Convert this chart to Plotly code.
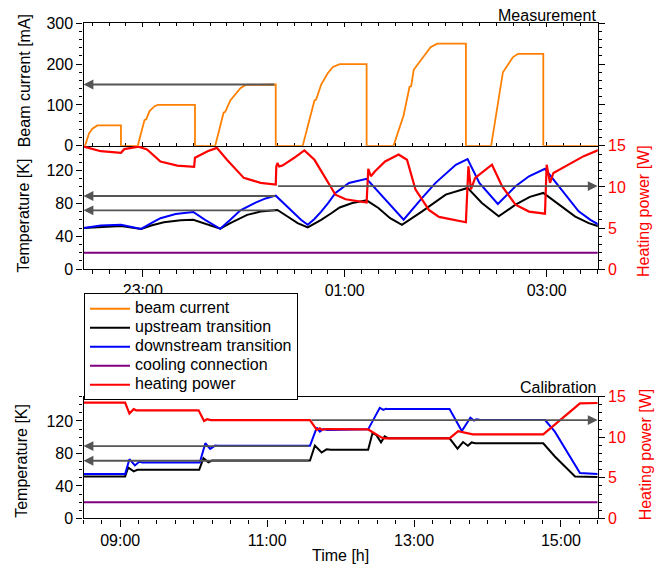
import plotly.graph_objects as go

# ---------------- data ----------------
# Measurement night (times HH:MM[:SS]; evening belongs to day 1, after midnight to day 2)
beam_time = ["22:25", "22:25:40", "22:28", "22:30", "22:33", "22:47", "22:47", "22:57", "23:01", "23:02",
             "23:04", "23:07", "23:09", "23:31", "23:31", "23:43", "23:48", "23:49", "23:52", "23:58",
             "00:01", "00:19", "00:19", "00:35", "00:42", "00:43", "00:46", "00:50", "00:53", "00:57",
             "01:13", "01:13", "01:29", "01:35", "01:38:30", "01:39:30", "01:41", "01:51", "01:55", "02:12",
             "02:12", "02:27", "02:34", "02:40", "02:43", "02:58", "02:58", "03:31"]
beam_current = [0, 0, 30, 42, 50, 50, 0, 0, 63, 65,
                85, 97, 100, 100, 0, 0, 81, 83, 111, 141,
                149, 150, 0, 0, 111, 113, 150, 178, 193, 200,
                200, 0, 0, 75, 144, 146, 186, 241, 250, 250,
                0, 0, 180, 217, 225, 225, 0, 0]

up_time = ["22:25", "22:35", "22:47", "22:59", "23:05", "23:12:30", "23:22:30", "23:30", "23:37", "23:46",
           "23:52", "00:02", "00:10", "00:20", "00:26", "00:32", "00:38", "00:46", "00:52", "00:54:30",
           "00:57", "01:04:30", "01:13", "01:20", "01:27", "01:34", "01:46", "02:00", "02:13", "02:21:30",
           "02:31:30", "02:41:30", "02:50", "02:58", "03:09", "03:17", "03:25", "03:31"]
up_temp = [50, 51.5, 52.5, 48.8, 53, 57, 59.5, 60, 55, 49.2,
           56, 66, 70, 72, 64, 56, 50.8, 60, 68, 72,
           75, 80.5, 83.7, 74.4, 62, 54, 70.3, 90.6, 98.8, 80.5,
           64.2, 78.4, 88, 92.7, 76, 64, 56, 52]

dn_time = ["22:25", "22:35", "22:47", "22:59", "23:05", "23:10:30", "23:19:30", "23:30", "23:37", "23:46",
           "23:52", "23:58", "00:07", "00:13", "00:19", "00:28", "00:34", "00:38", "00:42", "00:46",
           "00:50", "00:54:30", "01:02:30", "01:13", "01:24", "01:35", "01:46", "01:54", "02:06", "02:13",
           "02:20", "02:31", "02:41:30", "02:49:30", "02:59", "03:09", "03:19", "03:26", "03:31"]
dn_temp = [50, 53, 54, 49, 56, 62, 67, 69.5, 60, 49,
           60, 71.5, 81, 86, 89.4, 72, 60, 54, 61, 70,
           80, 92.7, 104.9, 109.8, 84.5, 60.1, 86.6, 105, 127, 134,
           105, 79.3, 100.8, 113, 122, 96.7, 70.3, 60, 54]

cool_time = ["22:25", "03:31"]
cool_temp = [20, 20]

hp_time = ["22:25", "22:35", "22:47", "22:49", "22:57:30", "23:02:30", "23:10:30", "23:20:30", "23:30:30", "23:31",
           "23:38:30", "23:44", "23:50", "00:00", "00:10", "00:19", "00:19:20", "00:20", "00:21", "00:23",
           "00:30", "00:36", "00:42", "00:50", "00:54:30", "01:00:30", "01:13", "01:14", "01:15:30", "01:18",
           "01:24", "01:32", "01:37", "01:42", "01:50", "01:56", "02:12", "02:13:30", "02:15", "02:17:30",
           "02:27:30", "02:33:30", "02:41:30", "02:49:30", "02:59", "03:00", "03:02", "03:04", "03:13", "03:22",
           "03:31"]
hp_power = [14.9, 14.35, 14.15, 14.6, 14.9, 14.55, 13.1, 12.6, 12.45, 13.55,
            14.35, 14.75, 13.3, 11.1, 10.5, 10.3, 12.5, 12.9, 12.5, 12.6,
            13.55, 14.45, 13.3, 10.5, 9.05, 8.5, 8.1, 12.2, 11.3, 11.9,
            13.1, 13.95, 13.3, 9.7, 7.2, 6.35, 5.7, 12.5, 9.7, 11.1,
            12.7, 10.1, 7.85, 7.0, 6.75, 12.7, 10.5, 11.7, 12.7, 13.75,
            14.5]

# Calibration day
cal_up_time = ["08:30", "09:04", "09:06:30", "09:11", "09:14", "10:04:30", "10:08", "10:12", "10:15", "11:35",
               "11:39", "11:44:30", "11:48:30", "11:52", "12:22:30", "12:26", "12:29", "12:33", "12:36", "12:39",
               "13:29", "13:35:30", "13:40", "13:44", "13:47", "13:50", "14:45:30", "14:55", "15:11:30", "15:30"]
cal_up_temp = [51.7, 51.7, 62.7, 57.9, 59.9, 59.9, 74.1, 69.2, 71.3, 71.3,
               89.7, 81.1, 85, 84.4, 84.4, 104.7, 103, 93.7, 101, 98.6,
               98.6, 86, 94, 89.5, 93.5, 92.5, 92.5, 76.2, 51.7, 51]

cal_dn_time = ["08:30", "09:04", "09:07:30", "09:12", "09:15:30", "09:18", "10:05", "10:09:30", "10:13:30", "10:17:30",
               "10:20", "11:35", "11:40:30", "11:43", "11:46", "11:49", "12:22:30", "12:32", "12:35", "12:37",
               "12:39", "13:29", "13:39", "13:46", "13:49", "13:51", "13:54", "14:47", "14:55", "15:15:30",
               "15:30"]
cal_dn_temp = [54.6, 54.6, 72.9, 65.2, 69.7, 68.9, 68.9, 92.5, 85.6, 89.6,
               89.3, 89.3, 111.7, 106.8, 110, 108.8, 109.6, 136.1, 133.5, 135,
               134.5, 134.5, 107.6, 123.9, 120.5, 122, 121, 121, 106.8, 55.8,
               54.6]

cal_cool_time = ["08:30", "15:30"]
cal_cool_temp = [20, 20]

cal_hp_time = ["08:30", "09:04", "09:07:30", "09:11", "09:13", "10:04", "10:08:30", "10:11", "10:14", "11:35",
               "11:40:30", "11:43", "11:45", "11:48", "12:22:30", "12:33:30", "12:36", "13:29", "13:36", "13:44",
               "13:48", "14:45:30", "15:15:30", "15:30"]
cal_hp_power = [14.25, 14.25, 12.9, 13.45, 13.3, 13.3, 12.0, 12.2, 12.1, 12.1,
                10.9, 11.1, 10.9, 11.0, 10.95, 9.95, 9.86, 9.86, 10.75, 10.45,
                10.35, 10.35, 14.15, 14.2]

# reference arrows (level, start time)
meas_beam_ref = (150, "00:19")
meas_temp_refs = [89, 71.5]
meas_power_ref = 10.1
meas_ref_time = "00:19:30"
cal_temp_refs = [89, 71]
cal_power_ref = 12.1
cal_ref_time = "11:35"

meas_range = ["22:24:45", "03:30:20"]
cal_range = ["08:30", "15:30"]

series_names = ["beam current", "upstream transition", "downstream transition",
                "cooling connection", "heating power"]


# ---------------- helpers ----------------
def mdt(s):
    day = "2000-01-01" if int(s[:2]) >= 12 else "2000-01-02"
    return f"{day} {s if len(s) > 5 else s + ':00'}"


def cdt(s):
    return f"2000-01-05 {s if len(s) > 5 else s + ':00'}"


def lname(s):
    return f'<span style="font-size:16px">{s}</span>'


ORANGE = "rgb(255,128,0)"
BLACK = "black"
BLUE = "rgb(0,0,255)"
PURPLE = "rgb(128,0,128)"
RED = "rgb(255,0,0)"
GREY = "rgb(85,85,85)"
FONT = "Liberation Sans, Arial, sans-serif"

W, H = 662, 571
# vertical correction measured between the requested layout and the returned picture
Y_SCALE, Y_OFF = 0.9727, 7.5


def px(x):
    return x / W


def py(y):
    return (H - (y - Y_OFF) / Y_SCALE) / H


X_DOM = [px(83.5), px(597.7)]
TOP = [py(145.7), py(22.7)]
MID = [py(269.3), py(145.7)]
BOT = [py(519.3), py(397.0)]

fig = go.Figure()

# measurement traces
fig.add_trace(go.Scatter(x=[mdt(t) for t in beam_time], y=beam_current, mode="lines",
                         line=dict(color=ORANGE, width=1.8), name=lname(series_names[0]),
                         xaxis="x", yaxis="y"))
fig.add_trace(go.Scatter(x=[mdt(t) for t in up_time], y=up_temp, mode="lines",
                         line=dict(color=BLACK, width=2), name=lname(series_names[1]),
                         xaxis="x2", yaxis="y2"))
fig.add_trace(go.Scatter(x=[mdt(t) for t in dn_time], y=dn_temp, mode="lines",
                         line=dict(color=BLUE, width=2), name=lname(series_names[2]),
                         xaxis="x2", yaxis="y2"))
fig.add_trace(go.Scatter(x=[mdt(t) for t in cool_time], y=cool_temp, mode="lines",
                         line=dict(color=PURPLE, width=2), name=lname(series_names[3]),
                         xaxis="x2", yaxis="y2"))
fig.add_trace(go.Scatter(x=[mdt(t) for t in hp_time], y=hp_power, mode="lines",
                         line=dict(color=RED, width=2.2), name=lname(series_names[4]),
                         xaxis="x2", yaxis="y3"))

# calibration traces
fig.add_trace(go.Scatter(x=[cdt(t) for t in cal_up_time], y=cal_up_temp, mode="lines",
                         line=dict(color=BLACK, width=2), showlegend=False, name=series_names[1],
                         xaxis="x3", yaxis="y4"))
fig.add_trace(go.Scatter(x=[cdt(t) for t in cal_dn_time], y=cal_dn_temp, mode="lines",
                         line=dict(color=BLUE, width=2), showlegend=False, name=series_names[2],
                         xaxis="x3", yaxis="y4"))
fig.add_trace(go.Scatter(x=[cdt(t) for t in cal_cool_time], y=cal_cool_temp, mode="lines",
                         line=dict(color=PURPLE, width=2), showlegend=False, name=series_names[3],
                         xaxis="x3", yaxis="y4"))
fig.add_trace(go.Scatter(x=[cdt(t) for t in cal_hp_time], y=cal_hp_power, mode="lines",
                         line=dict(color=RED, width=2.2), showlegend=False, name=series_names[4],
                         xaxis="x3", yaxis="y5"))

annotations = []


def arrow(xref, yref, head_x, tail_x, level):
    annotations.append(dict(xref=xref, yref=yref, axref=xref, ayref=yref,
                            x=head_x, y=level, ax=tail_x, ay=level, text="",
                            showarrow=True, arrowhead=2, arrowsize=1.1, arrowwidth=1.8,
                            arrowcolor=GREY, standoff=0, startstandoff=0))


arrow("x", "y", mdt(meas_range[0]), mdt(meas_beam_ref[1]), meas_beam_ref[0])
for lv in meas_temp_refs:
    arrow("x2", "y2", mdt(meas_range[0]), mdt(meas_ref_time), lv)
arrow("x2", "y3", mdt(meas_range[1]), mdt(meas_ref_time), meas_power_ref)
for lv in cal_temp_refs:
    arrow("x3", "y4", cdt(cal_range[0]), cdt(cal_ref_time), lv)
arrow("x3", "y5", cdt(cal_range[1]), cdt(cal_ref_time), cal_power_ref)


def label(text, x, y, angle=0, color="black", anchor="center"):
    annotations.append(dict(xref="paper", yref="paper", x=px(x), y=py(y), text=text,
                            showarrow=False, textangle=angle, xanchor=anchor, yanchor="middle",
                            font=dict(family=FONT, size=16, color=color)))


label("Measurement", 597.7, 15, anchor="right")
label("Calibration", 597.7, 388, anchor="right")
label("Beam current [mA]", 24, 81, angle=-90)
label("Temperature [K]", 23.5, 216, angle=-90)
label("Temperature [K]", 22, 461.5, angle=-90)
label("Heating power [W]", 644, 211, angle=-90, color=RED)
label("Heating power [W]", 645, 455, angle=-90, color=RED)
label("Time [h]", 340, 556.5)

axis_common = dict(showline=True, linecolor="black", linewidth=1.3, showgrid=False,
                   zeroline=False, tickcolor="black", tickwidth=1.2,
                   tickfont=dict(family=FONT, size=16, color="black"))

two_h = 2 * 3600 * 1000

fig.update_layout(
    width=W, height=H, margin=dict(l=0, r=0, t=0, b=0),
    paper_bgcolor="white", plot_bgcolor="white",
    font=dict(family=FONT, size=16, color="black"),
    showlegend=True,
    legend=dict(x=px(84), y=py(293.5), xanchor="left", yanchor="top",
                bordercolor="black", borderwidth=1, bgcolor="white",
                font=dict(family=FONT, size=12, color="black"),
                itemwidth=40, tracegroupgap=0),
    xaxis=dict(axis_common, type="date", domain=X_DOM, anchor="y",
               range=[mdt(meas_range[0]), mdt(meas_range[1])],
               showticklabels=False, ticks="inside", ticklen=4, mirror="ticks",
               dtick=two_h, tick0=mdt("23:00"), layer="below traces",
               minor=dict(dtick=600000, ticks="inside", ticklen=3, tickcolor="black")),
    yaxis=dict(axis_common, domain=TOP, anchor="x", range=[0, 300],
               ticks="outside", ticklen=6, mirror="ticks", dtick=100, tick0=0,
               minor=dict(dtick=20, ticks="outside", ticklen=3, tickcolor="black")),
    xaxis2=dict(axis_common, type="date", domain=X_DOM, anchor="y2",
                range=[mdt(meas_range[0]), mdt(meas_range[1])],
                ticks="outside", ticklen=7, dtick=two_h, tick0=mdt("23:00"),
                tickformat="%H:%M",
                minor=dict(dtick=600000, ticks="outside", ticklen=4, tickcolor="black")),
    yaxis2=dict(axis_common, domain=MID, anchor="x2", range=[0, 150],
                ticks="outside", ticklen=6, dtick=40, tick0=0,
                minor=dict(dtick=10, ticks="outside", ticklen=3, tickcolor="black")),
    yaxis3=dict(axis_common, overlaying="y2", side="right", anchor="x2", range=[0, 15],
                ticks="outside", ticklen=6, dtick=5, tick0=0,
                tickfont=dict(family=FONT, size=16, color=RED),
                minor=dict(dtick=1, ticks="outside", ticklen=3, tickcolor="black")),
    xaxis3=dict(axis_common, type="date", domain=X_DOM, anchor="y4",
                range=[cdt(cal_range[0]), cdt(cal_range[1])], mirror=True,
                ticks="outside", ticklen=7, dtick=two_h, tick0=cdt("09:00"),
                tickformat="%H:%M",
                minor=dict(dtick=900000, ticks="outside", ticklen=4, tickcolor="black")),
    yaxis4=dict(axis_common, domain=BOT, anchor="x3", range=[0, 150],
                ticks="outside", ticklen=6, dtick=40, tick0=0,
                minor=dict(dtick=10, ticks="outside", ticklen=3, tickcolor="black")),
    yaxis5=dict(axis_common, overlaying="y4", side="right", anchor="x3", range=[0, 15],
                ticks="outside", ticklen=6, dtick=5, tick0=0,
                tickfont=dict(family=FONT, size=16, color=RED),
                minor=dict(dtick=1, ticks="outside", ticklen=3, tickcolor="black")),
    annotations=annotations,
)

fig.write_html("out.html", config={"displayModeBar": False},
               post_script="document.body.style.margin='0';document.body.style.overflow='hidden';")
